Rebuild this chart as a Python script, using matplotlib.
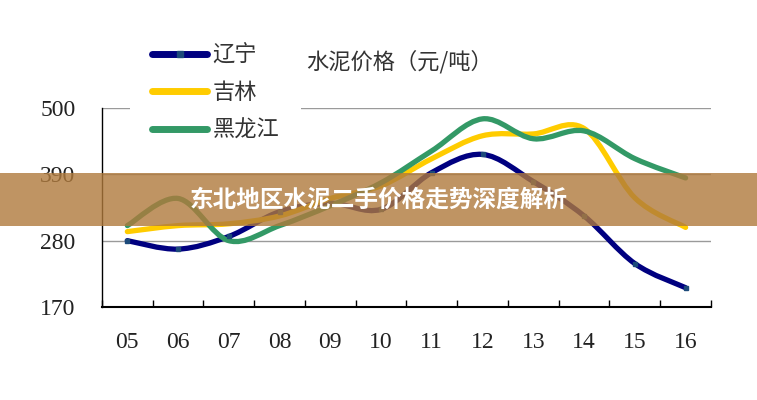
import matplotlib
matplotlib.use("Agg")
import matplotlib.pyplot as plt
import numpy as np
from matplotlib.path import Path
from matplotlib.patches import PathPatch, Rectangle
from matplotlib.lines import Line2D

plt.rcParams['font.family'] = ['Noto Sans CJK SC', 'DejaVu Sans']

years = ["05", "06", "07", "08", "09", "10", "11", "12", "13", "14", "15", "16"]
liaoning = [280, 266, 287, 328, 342, 332, 393, 423, 378, 321, 242, 202]
jilin = [295, 305, 308, 321, 350, 371, 416, 454, 457, 466, 351, 302]
heilongjiang = [305, 350, 280, 305, 338, 376, 429, 482, 449, 462, 416, 384]
series = [("辽宁", liaoning, "#000080"),
          ("吉林", jilin, "#FFCC00"),
          ("黑龙江", heilongjiang, "#339966")]
yticks = [170, 280, 390, 500]


def smooth_path(xs, ys):
    # bezier segments through the points (like a smoothed office chart line)
    pts = np.column_stack([xs, ys]).astype(float)
    n = len(pts)
    verts = [pts[0]]
    codes = [Path.MOVETO]
    for i in range(n - 1):
        p0 = pts[max(i - 1, 0)]
        p1 = pts[i]
        p2 = pts[i + 1]
        p3 = pts[min(i + 2, n - 1)]
        c1 = p1 + (p2 - p0) / 6.0
        c2 = p2 - (p3 - p1) / 6.0
        verts += [c1, c2, p2]
        codes += [Path.CURVE4] * 3
    return Path(verts, codes)


fig = plt.figure(figsize=(7.57, 4.0), dpi=100)
ax = fig.add_axes([0.1347, 0.2325, 0.8045, 0.4975])

x = np.arange(len(years))
for name, vals, col in series:
    patch = PathPatch(smooth_path(x, vals), facecolor="none", edgecolor=col,
                      lw=3.8, capstyle="round", joinstyle="round", zorder=3)
    ax.add_patch(patch)
# small point markers on the Liaoning series
ax.plot(x, liaoning, ls="none", marker="s", ms=2.5, color="#1c4a7a", zorder=4)

ax.set_xlim(-0.5, len(years) - 0.5)
ax.set_ylim(170, 500)
ax.set_yticks(yticks)
ax.set_yticklabels([str(v) for v in yticks], family="Liberation Serif",
                   fontsize=17, color="#222222")
for v in yticks[1:]:
    ax.axhline(v, color="#9a9a9a", lw=1.0, zorder=1)

ax.set_xticks(x)
ax.set_xticklabels(years, family="Liberation Serif", fontsize=17, color="#222222")
ax.set_xticks(np.arange(len(years) + 1) - 0.5, minor=True)
ax.tick_params(axis="x", which="major", length=0, pad=18)
ax.tick_params(axis="x", which="minor", length=5, direction="in", width=1)
ax.tick_params(axis="y", length=0, pad=19)

for s in ["top", "right"]:
    ax.spines[s].set_visible(False)
ax.spines["left"].set_linewidth(1.0)
ax.spines["bottom"].set_linewidth(1.5)

handles = [Line2D([0], [0], color=c, lw=5, solid_capstyle="round") for _, _, c in series]
handles[0] = Line2D([0], [0], color="#000080", lw=5, solid_capstyle="round",
                    marker="s", ms=4, markerfacecolor="#1c4a7a", markeredgecolor="#1c4a7a")
leg = fig.legend(handles, [n for n, _, _ in series], loc="upper left",
                 bbox_to_anchor=(0.172, 0.947), frameon=True, fontsize=16,
                 handlelength=2.45, handletextpad=0.25, labelspacing=0.66,
                 borderpad=1.0, borderaxespad=0, markerscale=1)
leg.get_frame().set_facecolor("white")
leg.get_frame().set_edgecolor("none")
leg.get_frame().set_alpha(1)
for t in leg.get_texts():
    t.set_color("#333333")

fig.text(0.405, 0.845, "水泥价格（元/吨）", fontsize=16, color="#333333",
         va="center", ha="left")

# overlay banner
fig.patches.append(Rectangle((0, 1 - 226 / 400), 1, 53 / 400, transform=fig.transFigure,
                             facecolor="#b07a3c", alpha=0.8, edgecolor="none", zorder=10))
fig.text(0.5, 1 - 200 / 400, "东北地区水泥二手价格走势深度解析", fontsize=17,
         fontweight="bold", color="white", ha="center", va="center", zorder=11)

fig.savefig("out.png", dpi=100)
